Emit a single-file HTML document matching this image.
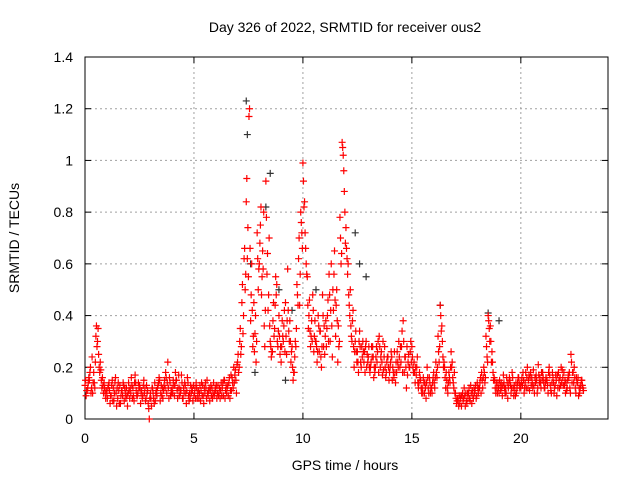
<!DOCTYPE html>
<html><head><meta charset="utf-8"><style>
body{margin:0;background:#fff}
svg{display:block;font-family:"Liberation Sans",sans-serif}
</style></head><body>
<svg id="chart" width="640" height="480" viewBox="0 0 640 480" xmlns="http://www.w3.org/2000/svg">
<rect width="640" height="480" fill="#fff"/>
<text x="345" y="32" font-size="14" text-anchor="middle">Day 326 of 2022, SRMTID for receiver ous2</text>
<text x="345" y="470" font-size="14" text-anchor="middle">GPS time / hours</text>
<text transform="translate(19,238) rotate(-90)" font-size="14" text-anchor="middle">SRMTID / TECUs</text>
<g id="grid"></g><g id="axes"></g><g id="marks"></g>
</svg>
<script>
const xTicks=[0,5,10,15,20];
const yTicks=[0,0.2,0.4,0.6,0.8,1,1.2,1.4];
const yTickLabels=["0","0.2","0.4","0.6","0.8","1","1.2","1.4"];
const trackA=[0.13,0.11,0.15,0.12,0.18,0.32,0.35,0.22,0.16,0.12,
0.10,0.14,0.09,0.12,0.16,0.08,0.13,0.11,0.07,0.12,
0.14,0.10,0.12,0.17,0.09,0.13,0.11,0.15,0.08,0.06,
0.10,0.12,0.14,0.09,0.16,0.13,0.11,0.18,0.22,0.14,
0.12,0.09,0.15,0.17,0.11,0.08,0.13,0.16,0.10,0.12,
0.09,0.14,0.11,0.07,0.13,0.10,0.15,0.12,0.09,0.14,
0.11,0.13,0.08,0.12,0.15,0.10,0.14,0.17,0.12,0.19,
0.22,0.30,0.45,0.62,0.84,0.55,0.38,0.28,0.33,0.72,
0.60,0.48,0.80,0.92,0.42,0.30,0.26,0.35,0.52,0.40,
0.22,0.30,0.45,0.58,0.38,0.28,0.18,0.35,0.62,0.80,
0.99,0.72,0.55,0.46,0.38,0.26,0.30,0.40,0.34,0.48,
0.25,0.35,0.56,0.60,0.42,0.32,0.22,0.78,1.07,0.88,
0.66,0.48,0.36,0.42,0.30,0.26,0.34,0.28,0.22,0.30,
0.24,0.20,0.28,0.18,0.22,0.32,0.26,0.19,0.16,0.24,
0.20,0.15,0.26,0.18,0.30,0.22,0.38,0.24,0.17,0.20,
0.28,0.22,0.17,0.12,0.15,0.10,0.14,0.20,0.16,0.12,
0.18,0.22,0.32,0.44,0.30,0.20,0.15,0.18,0.26,0.14,
0.10,0.08,0.06,0.09,0.12,0.07,0.10,0.13,0.09,0.11,
0.14,0.12,0.18,0.20,0.32,0.40,0.36,0.22,0.15,0.12,
0.10,0.14,0.17,0.12,0.08,0.15,0.18,0.13,0.10,0.16,
0.12,0.18,0.14,0.20,0.11,0.16,0.13,0.17,0.21,0.14,
0.18,0.12,0.15,0.20,0.10,0.14,0.17,0.12,0.16,0.19,
0.13,0.11,0.16,0.25,0.18,0.12,0.14,0.10,0.15];
const trackB=[0.09,0.14,0.20,0.10,0.12,0.28,0.20,0.15,0.10,0.08,
0.12,0.06,0.15,0.10,0.05,0.11,0.09,0.14,0.10,0.05,
0.08,0.13,0.07,0.11,0.14,0.06,0.09,0.12,0.10,0.00,
0.05,0.08,0.10,0.13,0.07,0.12,0.15,0.10,0.08,0.11,
0.15,0.18,0.08,0.12,0.14,0.10,0.06,0.09,0.13,0.07,
0.12,0.08,0.10,0.14,0.06,0.12,0.09,0.11,0.08,0.10,
0.08,0.10,0.14,0.09,0.11,0.13,0.08,0.16,0.14,0.10,
0.18,0.25,0.33,0.50,0.62,1.20,0.60,0.45,0.22,0.50,
0.75,0.65,0.28,0.56,0.70,0.24,0.45,0.55,0.28,0.25,
0.38,0.42,0.25,0.34,0.22,0.15,0.30,0.48,0.44,0.72,
0.82,0.60,0.35,0.28,0.48,0.38,0.22,0.26,0.20,0.28,
0.38,0.46,0.30,0.24,0.65,0.50,0.28,0.60,1.02,0.68,
0.56,0.40,0.30,0.20,0.26,0.18,0.22,0.30,0.18,0.25,
0.20,0.28,0.16,0.24,0.30,0.20,0.17,0.28,0.22,0.15,
0.26,0.18,0.14,0.22,0.20,0.34,0.18,0.12,0.25,0.30,
0.20,0.14,0.24,0.18,0.10,0.14,0.08,0.12,0.10,0.14,
0.12,0.16,0.22,0.34,0.20,0.12,0.10,0.14,0.22,0.18,
0.06,0.05,0.09,0.07,0.05,0.10,0.08,0.06,0.12,0.08,
0.10,0.16,0.12,0.14,0.24,0.35,0.22,0.15,0.10,0.14,
0.13,0.09,0.12,0.16,0.14,0.10,0.12,0.09,0.14,0.12,
0.16,0.10,0.12,0.15,0.18,0.12,0.16,0.10,0.14,0.18,
0.14,0.16,0.10,0.13,0.18,0.12,0.09,0.15,0.20,0.13,
0.10,0.15,0.12,0.14,0.20,0.16,0.09,0.13,0.12];
const trackC=[0.15,0.12,0.18,0.24,0.14,0.36,0.25,0.19,0.13,0.10,
0.08,0.11,0.13,0.07,0.10,0.14,0.06,0.09,0.12,0.09,
0.11,0.16,0.09,0.14,0.10,0.12,0.08,0.10,0.13,0.04,
0.08,0.10,0.07,0.12,0.15,0.09,0.13,0.16,0.12,0.09,
0.10,0.13,0.11,0.09,0.17,0.12,0.10,0.14,0.08,0.11,
0.10,0.12,0.08,0.11,0.09,0.14,0.10,0.07,0.12,0.09,
0.13,0.09,0.11,0.14,0.08,0.12,0.16,0.11,0.20,0.15,
0.25,0.35,0.52,0.66,0.93,1.17,0.48,0.32,0.40,0.62,
0.68,0.55,0.36,0.78,0.48,0.28,0.38,0.44,0.30,0.32,
0.28,0.36,0.32,0.42,0.30,0.20,0.24,0.52,0.70,0.76,
0.92,0.66,0.44,0.34,0.30,0.32,0.28,0.36,0.24,0.40,
0.32,0.40,0.48,0.36,0.56,0.44,0.36,0.70,1.05,0.80,
0.62,0.44,0.32,0.28,0.34,0.22,0.28,0.24,0.26,0.20,
0.28,0.22,0.24,0.20,0.26,0.28,0.22,0.24,0.18,0.20,
0.22,0.20,0.18,0.26,0.24,0.28,0.30,0.20,0.22,0.26,
0.24,0.18,0.20,0.14,0.12,0.16,0.12,0.16,0.14,0.10,
0.14,0.18,0.26,0.40,0.24,0.16,0.12,0.16,0.20,0.12,
0.08,0.07,0.08,0.10,0.09,0.06,0.12,0.10,0.08,0.13,
0.12,0.14,0.15,0.18,0.28,0.38,0.30,0.18,0.12,0.10,
0.15,0.12,0.14,0.10,0.12,0.13,0.16,0.11,0.12,0.14,
0.14,0.15,0.18,0.12,0.16,0.14,0.10,0.15,0.17,0.12,
0.16,0.14,0.13,0.17,0.14,0.10,0.15,0.18,0.13,0.16,
0.15,0.12,0.18,0.22,0.14,0.10,0.16,0.12,0.13];
const trackD=[0.11,0.16,0.10,0.14,0.22,0.30,0.18,0.12,0.14,0.11,
0.13,0.09,0.07,0.14,0.12,0.06,0.11,0.13,0.08,0.10,
0.12,0.08,0.14,0.09,0.12,0.10,0.13,0.07,0.11,0.08,
0.12,0.06,0.11,0.14,0.10,0.08,0.12,0.14,0.16,0.10,
0.13,0.15,0.12,0.10,0.08,0.14,0.11,0.07,0.10,0.13,
0.08,0.10,0.13,0.09,0.12,0.08,0.11,0.13,0.10,0.12,
0.10,0.12,0.09,0.15,0.13,0.09,0.11,0.14,0.17,0.21,
0.20,0.28,0.40,0.56,0.74,0.66,0.42,0.26,0.30,0.58,
0.82,0.58,0.42,0.64,0.36,0.26,0.32,0.48,0.34,0.28,
0.32,0.26,0.38,0.30,0.26,0.18,0.28,0.44,0.56,0.66,
0.84,0.56,0.40,0.32,0.42,0.30,0.26,0.34,0.28,0.36,
0.28,0.30,0.42,0.50,0.46,0.38,0.30,0.64,0.96,0.74,
0.60,0.50,0.38,0.26,0.22,0.30,0.20,0.26,0.28,0.22,
0.18,0.24,0.20,0.28,0.18,0.24,0.30,0.20,0.24,0.18,
0.24,0.16,0.22,0.20,0.28,0.18,0.24,0.28,0.20,0.22,
0.18,0.20,0.14,0.16,0.12,0.10,0.14,0.10,0.12,0.16,
0.16,0.20,0.28,0.36,0.22,0.18,0.14,0.20,0.16,0.10,
0.07,0.09,0.05,0.08,0.10,0.08,0.07,0.11,0.10,0.09,
0.12,0.10,0.16,0.16,0.22,0.30,0.26,0.16,0.14,0.12,
0.11,0.13,0.10,0.14,0.16,0.12,0.09,0.14,0.16,0.13,
0.13,0.12,0.16,0.17,0.13,0.19,0.14,0.12,0.16,0.15,
0.12,0.15,0.18,0.11,0.16,0.13,0.17,0.12,0.14,0.18,
0.14,0.17,0.10,0.18,0.16,0.14,0.12,0.15,0.11];
const blackTimes=[7.4,7.45,8.5,8.3,12.4,12.9,18.5,19.0,16.3,9.5,10.6,7.6,8.9,7.8,9.2,12.6];
const blackValues=[1.23,1.1,0.95,0.82,0.72,0.55,0.41,0.38,0.44,0.42,0.5,0.6,0.5,0.18,0.15,0.6];

const X0=85,X1=608,Y0=419,Y1=57;
const xs=h=>X0+h/24*(X1-X0);
const ys=v=>Y0-v/1.4*(Y0-Y1);
const NS="http://www.w3.org/2000/svg";
function mk(tag,attrs,parent){const e=document.createElementNS(NS,tag);for(const k in attrs)e.setAttribute(k,attrs[k]);parent.appendChild(e);return e;}
const grid=document.getElementById('grid'),axes=document.getElementById('axes'),marks=document.getElementById('marks');
xTicks.forEach(t=>{
  const x=xs(t);
  if(t>0){const g=mk('line',{x1:x,x2:x,y1:Y1,y2:Y0,stroke:'#a0a0a0','stroke-dasharray':'2,3'},grid);
  
  }
  mk('line',{x1:x,x2:x,y1:Y0,y2:Y0-6,stroke:'#000'},axes);
  mk('line',{x1:x,x2:x,y1:Y1,y2:Y1+6,stroke:'#000'},axes);
  const l=mk('text',{x:x,y:Y0+24,'font-size':14,'text-anchor':'middle'},axes);l.textContent=t;
  
  
});
yTicks.forEach((t,i)=>{
  const y=ys(t);
  if(i>0&&i<yTicks.length-1){const g=mk('line',{x1:X0,x2:X1,y1:y,y2:y,stroke:'#a0a0a0','stroke-dasharray':'2,3'},grid);
  
  }
  mk('line',{x1:X0,x2:X0+6,y1:y,y2:y,stroke:'#000'},axes);
  mk('line',{x1:X1,x2:X1-6,y1:y,y2:y,stroke:'#000'},axes);
  const l=mk('text',{x:X0-12,y:y+5,'font-size':14,'text-anchor':'end'},axes);l.textContent=yTickLabels[i];
  
  
});
const frame=mk('rect',{x:X0,y:Y1,width:X1-X0,height:Y0-Y1,fill:'none',stroke:'#000'},axes);


function plus(h,v,color,name){
  const x=xs(h),y=ys(v);
  const p=mk('path',{d:`M${x-3.5},${y}h7M${x},${y-3.5}v7`,stroke:color,'stroke-width':1.2,fill:'none'},marks);
  
  
}
blackTimes.forEach((t,i)=>plus(t,blackValues[i],'#333','black-point'));
trackA.forEach((v,i)=>plus(i*0.1,v,'#ff0000','red-point'));
trackB.forEach((v,i)=>plus(i*0.1+0.05,v,'#ff0000','red-point'));
trackC.forEach((v,i)=>plus(i*0.1+0.025,v,'#ff0000','red-point'));
trackD.forEach((v,i)=>plus(i*0.1+0.075,v,'#ff0000','red-point'));
</script>
</body></html>
